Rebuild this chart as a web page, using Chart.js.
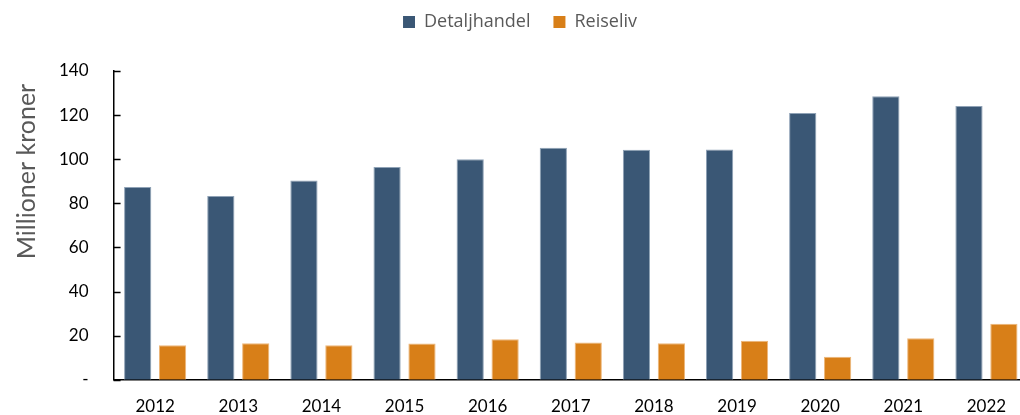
<!DOCTYPE html>
<html>
<head>
<meta charset="utf-8">
<script src="https://cdn.jsdelivr.net/npm/chart.js@4"></script>
<style>
  html, body { margin: 0; padding: 0; background: #fff; overflow: hidden; }
  .wrap { position: relative; width: 1028px; height: 415px; }
</style>
</head>
<body>
<div class="wrap"><canvas id="salesChart"></canvas></div>
<script>
// data
const years = ['2012', '2013', '2014', '2015', '2016', '2017', '2018', '2019', '2020', '2021', '2022'];
const detaljhandel = [87.4, 83.3, 90.3, 96.5, 100.0, 105.2, 104.3, 104.4, 121.0, 128.5, 124.1];
const reiseliv = [15.7, 16.6, 15.7, 16.5, 18.4, 16.9, 16.6, 17.7, 10.5, 18.8, 25.4];
const yTicks = [0, 20, 40, 60, 80, 100, 120, 140];

// small inward tick marks on the y axis, like the original
const innerTicks = {
  id: 'innerTicks',
  afterDatasetsDraw(chart) {
    const y = chart.scales.y;
    const ctx = chart.ctx;
    ctx.save();
    ctx.strokeStyle = '#000';
    ctx.lineWidth = 1.5;
    y.ticks.forEach(t => {
      const py = Math.round(y.getPixelForValue(t.value)) + 0.5;
      ctx.beginPath();
      ctx.moveTo(y.right, py);
      ctx.lineTo(y.right + 7, py);
      ctx.stroke();
    });
    ctx.restore();
  }
};

// extra room under the legend
const legendGap = {
  id: 'legendGap',
  beforeInit(chart) {
    const fit = chart.legend.fit;
    chart.legend.fit = function () {
      fit.bind(chart.legend)();
      this.height += 30;
    };
  }
};

new Chart(document.getElementById('salesChart'), {
  type: 'bar',
  data: {
    labels: years,
    datasets: [
      {
        label: 'Detaljhandel',
        data: detaljhandel,
        backgroundColor: '#3A5775',
        borderColor: '#8FA2B6',
        borderWidth: { top: 1, left: 1, right: 1, bottom: 0 },
        categoryPercentage: 0.84,
        barPercentage: 0.78
      },
      {
        label: 'Reiseliv',
        data: reiseliv,
        backgroundColor: '#D87F18',
        borderColor: '#EDB77A',
        borderWidth: { top: 1, left: 1, right: 1, bottom: 0 },
        categoryPercentage: 0.84,
        barPercentage: 0.78
      }
    ]
  },
  options: {
    responsive: true,
    maintainAspectRatio: false,
    animation: false,
    layout: { padding: { top: -10, left: 12, right: 0, bottom: -24 } },
    plugins: {
      legend: {
        position: 'top',
        labels: {
          boxWidth: 12,
          boxHeight: 12,
          padding: 23,
          color: '#595959',
          font: { family: "'Open Sans', sans-serif", size: 18 },
          generateLabels(chart) {
            return chart.data.datasets.map((ds, i) => ({
              text: ds.label,
              fillStyle: ds.backgroundColor,
              strokeStyle: ds.backgroundColor,
              lineWidth: 0,
              fontColor: '#595959',
              datasetIndex: i
            }));
          }
        }
      },
      tooltip: { enabled: false }
    },
    scales: {
      x: {
        grid: { display: false, drawTicks: false },
        border: { display: true, color: '#000', width: 1.5 },
        ticks: {
          color: '#000',
          padding: 17,
          font: { family: "Lato, sans-serif", size: 17 }
        }
      },
      y: {
        min: 0,
        max: 140,
        afterBuildTicks(scale) {
          scale.ticks = yTicks.map(v => ({ value: v }));
        },
        grid: { display: false, drawTicks: false },
        border: { display: true, color: '#000', width: 1.5 },
        ticks: {
          color: '#000',
          padding: 25,
          font: { family: "Lato, sans-serif", size: 17 },
          callback: v => (v === 0 ? '-' : v)
        },
        title: {
          display: true,
          text: 'Millioner kroner  ',
          align: 'end',
          color: '#595959',
          padding: { top: 0, bottom: -8 },
          font: { family: "Lato, sans-serif", size: 25 }
        }
      }
    }
  },
  plugins: [innerTicks, legendGap]
});
</script>
</body>
</html>
